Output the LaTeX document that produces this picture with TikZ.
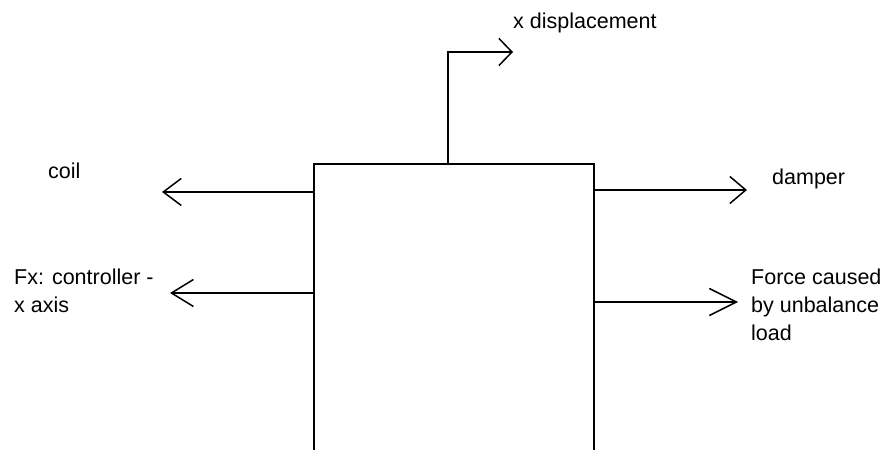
\documentclass[tikz,border=0pt]{standalone}
\usepackage{fontspec}
\setmainfont{Liberation Sans}
\usetikzlibrary{arrows.meta}
\tikzset{
  wire/.style={line width=2bp, line cap=butt, line join=miter},
  barb/.style={wire, -{Straight Barb[length=#1, width=27bp, line width=1.5bp]}},
  barb/.default=17bp,
  lbl/.style={inner sep=0pt, anchor=base west, align=left, font=\fontsize{21.5bp}{28bp}\selectfont}
}
\begin{document}
\begin{tikzpicture}[x=1bp, y=-1bp]
\useasboundingbox (0,0) rectangle (887,450);
% box (open at the bottom)
\coordinate (bl) at (314,450);
\coordinate (tl) at (314,164);
\coordinate (tr) at (594,164);
\coordinate (br) at (594,450);
\draw[wire] (bl) -- (tl) -- (tr) -- (br);
% connector start points on the box
\coordinate (sx) at (448,164);
\coordinate (sc) at (314,192);
\coordinate (sf) at (314,293);
\coordinate (sd) at (594,190);
\coordinate (su) at (594,302);
% free ends
\coordinate (cx) at (448,52);
\coordinate (ex) at (513,52);
\coordinate (ec) at (162,192);
\coordinate (ef) at (170,293);
\coordinate (ed) at (747,190);
\coordinate (eu) at (738,302);
% labels (base anchor = baseline of the last line)
\node[lbl] (tx) at (513,29) {x displacement};
\node[lbl] (tc) at (48,179) {coil};
\node[lbl] (tf) at (14,313) {Fx: controller -\\x axis};
\node[lbl] (td) at (772,185) {damper};
\node[lbl] (tu) at (751,341) {Force caused\\by unbalance\\load};
% connectors
\draw[barb=13bp] (sx) -- (cx) -- (ex);
\draw[barb=18bp] (sc) -- (ec);
\draw[barb=22bp] (sf) -- (ef);
\draw[barb=16bp] (sd) -- (ed);
\draw[barb=27bp] (su) -- (eu);
\end{tikzpicture}
\end{document}
